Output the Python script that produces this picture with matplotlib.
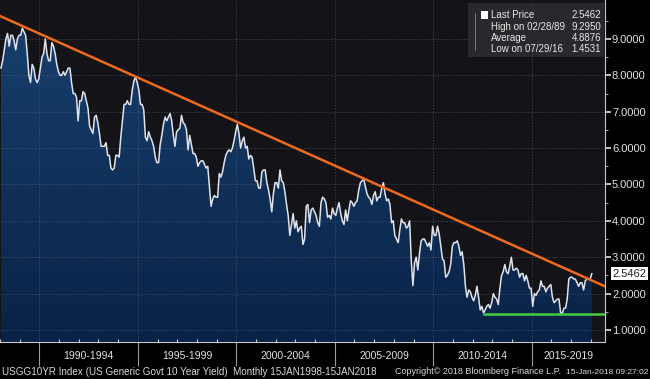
import numpy as np
import matplotlib
matplotlib.use('Agg')
from matplotlib import pyplot as plt
from matplotlib import transforms as mtransforms
from matplotlib.colors import LinearSegmentedColormap

# month-end 10y yield, Jan 1988 .. Dec 2017, plus last price Jan 2018
y1988 = [8.20, 8.40, 8.70, 9.00, 9.15, 8.80, 9.10, 9.10, 8.95, 8.70, 9.00, 9.10]
y1989 = [9.10, 9.295, 9.20, 9.10, 8.60, 8.00, 7.80, 8.30, 8.20, 7.90, 7.80, 7.90]
y1990 = [8.20, 8.50, 8.60, 9.00, 8.60, 8.40, 8.40, 8.90, 8.80, 8.60, 8.30, 8.10]
y1991 = [8.00, 8.00, 8.10, 8.00, 8.10, 8.20, 8.20, 7.80, 7.50, 7.50, 7.40, 6.75]
y1992 = [7.30, 7.30, 7.55, 7.50, 7.30, 7.10, 6.60, 6.50, 6.40, 6.85, 6.90, 6.70]
y1993 = [6.40, 6.05, 6.05, 6.05, 6.15, 5.80, 5.80, 5.45, 5.40, 5.45, 5.80, 5.80]
y1994 = [5.75, 6.30, 6.75, 7.20, 7.20, 7.30, 7.20, 7.20, 7.60, 7.85, 7.95, 7.80]
y1995 = [7.60, 7.20, 7.20, 7.05, 6.30, 6.20, 6.45, 6.30, 6.20, 6.05, 5.75, 5.60]
y1996 = [5.60, 6.10, 6.35, 6.65, 6.85, 6.75, 6.85, 6.95, 6.75, 6.35, 6.05, 6.45]
y1997 = [6.50, 6.55, 6.90, 6.70, 6.65, 6.50, 5.95, 6.35, 6.10, 5.85, 5.85, 5.75]
y1998 = [5.50, 5.60, 5.65, 5.65, 5.55, 5.45, 5.50, 4.95, 4.40, 4.60, 4.70, 4.65]
y1999 = [4.65, 5.30, 5.20, 5.35, 5.60, 5.80, 5.90, 5.95, 5.90, 6.00, 6.20, 6.45]
y2000 = [6.65, 6.40, 6.00, 6.20, 6.30, 6.00, 6.05, 5.70, 5.80, 5.75, 5.45, 5.10]
y2001 = [5.10, 4.90, 4.90, 5.35, 5.40, 5.40, 5.05, 4.85, 4.60, 4.25, 4.75, 5.05]
y2002 = [5.05, 4.90, 5.40, 5.10, 5.05, 4.80, 4.45, 4.15, 3.60, 3.90, 4.20, 3.80]
y2003 = [4.00, 3.70, 3.80, 3.85, 3.35, 3.50, 4.40, 4.45, 3.95, 4.30, 4.35, 4.25]
y2004 = [4.15, 3.95, 3.85, 4.50, 4.65, 4.60, 4.50, 4.10, 4.15, 4.05, 4.35, 4.20]
y2005 = [4.15, 4.35, 4.50, 4.20, 4.00, 3.90, 4.30, 4.00, 4.30, 4.55, 4.50, 4.40]
y2006 = [4.50, 4.55, 4.85, 5.05, 5.10, 5.15, 4.95, 4.75, 4.65, 4.60, 4.45, 4.70]
y2007 = [4.80, 4.55, 4.65, 4.65, 4.90, 5.05, 4.75, 4.55, 4.60, 4.45, 3.95, 4.00]
y2008 = [3.60, 3.50, 3.40, 3.75, 4.05, 3.95, 3.95, 3.80, 3.85, 4.00, 2.90, 2.22]
y2009 = [2.85, 3.00, 2.65, 3.10, 3.45, 3.50, 3.50, 3.40, 3.30, 3.40, 3.20, 3.85]
y2010 = [3.60, 3.60, 3.85, 3.65, 3.30, 2.95, 2.90, 2.45, 2.50, 2.60, 2.80, 3.30]
y2011 = [3.40, 3.40, 3.45, 3.30, 3.05, 3.15, 2.80, 2.20, 1.90, 2.10, 2.05, 1.90]
y2012 = [1.80, 1.95, 2.20, 1.90, 1.55, 1.65, 1.47, 1.55, 1.65, 1.70, 1.60, 1.75]
y2013 = [2.00, 1.90, 1.85, 1.70, 2.15, 2.50, 2.60, 2.80, 2.60, 2.55, 2.75, 3.00]
y2014 = [2.65, 2.65, 2.70, 2.65, 2.45, 2.55, 2.55, 2.35, 2.50, 2.35, 2.15, 2.15]
y2015 = [1.65, 2.00, 1.95, 2.05, 2.10, 2.35, 2.20, 2.20, 2.05, 2.15, 2.20, 2.25]
y2016 = [1.90, 1.75, 1.80, 1.85, 1.85, 1.47, 1.4531, 1.60, 1.60, 1.85, 2.40, 2.45]
y2017 = [2.45, 2.40, 2.40, 2.30, 2.20, 2.30, 2.30, 2.10, 2.35, 2.40, 2.40, 2.40]
y2018 = [2.5462]

yields = (y1988 + y1989 + y1990 + y1991 + y1992 + y1993 + y1994 + y1995 + y1996
          + y1997 + y1998 + y1999 + y2000 + y2001 + y2002 + y2003 + y2004 + y2005
          + y2006 + y2007 + y2008 + y2009 + y2010 + y2011 + y2012 + y2013 + y2014
          + y2015 + y2016 + y2017 + y2018)

# trend lines (drawn by hand on the original)
trend_x = [1988.0, 2018.72]
trend_y = [9.63, 2.20]
support_x = [2012.6, 2018.72]
support_y = [1.4531, 1.4531]

periods = ['1990-1994', '1995-1999', '2000-2004', '2005-2009', '2010-2014', '2015-2019']
period_start = [1990, 1995, 2000, 2005, 2010, 2015]

legend_rows = [('Last Price', '2.5462'), ('High on 02/28/89', '9.2950'),
               ('Average', '4.8876'), ('Low on 07/29/16', '1.4531')]
last_price = 2.5462

footer_left = 'USGG10YR Index (US Generic Govt 10 Year Yield)  Monthly 15JAN1998-15JAN2018'
footer_mid = 'Copyright\u00a9 2018 Bloomberg Finance L.P.'
footer_right = '15-Jan-2018 09:27:02'

if __name__ == '__main__':
    plt.rcParams['font.family'] = ['Liberation Sans', 'DejaVu Sans']
    y = np.array(yields)
    x = 1988 + (np.arange(len(y)) + 0.6) / 12.0
    xmin, xmax = 1988.0, 2018.72
    ymin, ymax = 0.67, 10.07

    fig = plt.figure(figsize=(6.5, 3.79), dpi=100, facecolor='black')
    ax = fig.add_axes([0.0, 1 - 342 / 379, 605 / 650, 342 / 379])
    ax.set_facecolor('#141418')

    # gradient area under the line
    cmap = LinearSegmentedColormap.from_list('bb', ['#0a2247', '#173f6c'])
    grad = np.linspace(0, 1, 256).reshape(-1, 1)
    im = ax.imshow(grad, cmap=cmap, origin='lower', aspect='auto',
                   extent=[x[0] - 0.05, x[-1], ymin, 9.4], zorder=1)
    poly = ax.fill_between(x, ymin, y, color='none', lw=0)
    im.set_clip_path(poly.get_paths()[0], transform=ax.transData)
    ax.set_xlim(xmin, xmax)
    ax.set_ylim(ymin, ymax)

    # grid
    for v in range(1, 10):
        ax.axhline(v, color='#5a6070', lw=0.6, ls=(0, (1.5, 2)), alpha=0.7, zorder=2)
    for v in period_start:
        ax.axvline(v, color='#5a6070', lw=0.6, ls=(0, (1.5, 2)), alpha=0.7, zorder=2)

    ax.plot(x, y, color='#dfe3ec', lw=1.1, zorder=4)
    ax.plot(trend_x, trend_y, color='#ee6a1c', lw=1.8, zorder=5)
    ax.plot(support_x, support_y, color='#3fcf3f', lw=1.8, zorder=5)

    # spines
    for s in ['top', 'left']:
        ax.spines[s].set_visible(False)
    ax.spines['right'].set_color('#c8c8c8')
    ax.spines['bottom'].set_color('#c8c8c8')
    ax.spines['right'].set_linewidth(0.8)
    ax.spines['bottom'].set_linewidth(0.8)

    # y axis on the right
    ax.yaxis.tick_right()
    ax.set_yticks(range(1, 10))
    ax.set_yticklabels(['%.4f' % v for v in range(1, 10)])
    ax.set_yticks(np.arange(1.5, 10.0, 1.0), minor=True)
    ax.tick_params(axis='y', which='major', colors='#e0e0e0', labelsize=8,
                   length=4, width=1.2, pad=1, direction='out')
    ax.tick_params(axis='y', which='minor', colors='#a0a0a0', length=2, width=0.8)

    # x axis: year ticks + long separators, period labels centred
    ax.set_xticks(period_start)
    ax.set_xticklabels([])
    ax.set_xticks(range(1988, 2019), minor=True)
    ax.tick_params(axis='x', which='major', colors='#9a9a9a', length=17, width=0.8,
                   direction='out')
    ax.tick_params(axis='x', which='minor', colors='#d0d0d0', length=2, width=0.8,
                   direction='in')
    trans = mtransforms.blended_transform_factory(ax.transData, fig.transFigure)
    for lab, s in zip(periods, period_start):
        c = (s + min(s + 5, xmax)) / 2.0
        ax.text(c, 1 - 356 / 379, lab, transform=trans, color='#e0e0e0',
                fontsize=7.5, ha='center', va='center')

    # last price marker on the right axis
    ax.text(1.012, (last_price - ymin) / (ymax - ymin), '%.4f' % last_price,
            transform=ax.transAxes, fontsize=8, color='#222222', ha='left',
            va='center', clip_on=False,
            bbox=dict(boxstyle='square,pad=0.15', fc='white', ec='none'))

    # legend box
    fig.patches.append(plt.Rectangle((468 / 650, 1 - 57 / 379), 136 / 650, 54 / 379,
                                     transform=fig.transFigure, fc='#2b2b30',
                                     ec='none', alpha=0.9, zorder=10))
    for i, (name, val) in enumerate(legend_rows):
        yy = 1 - (15 + 11.5 * i) / 379
        fig.text(491 / 650, yy, name, color='#e8e8e8', fontsize=7, va='center',
                 zorder=11)
        fig.text(601 / 650, yy, val, color='#e8e8e8', fontsize=7, va='center',
                 ha='right', zorder=11)
    fig.patches.append(plt.Rectangle((481 / 650, 1 - 19 / 379), 7 / 650, 8 / 379,
                                     transform=fig.transFigure, fc='white',
                                     ec='none', zorder=11))
    fig.lines.append(plt.Line2D([475 / 650, 475 / 650], [1 - 13 / 379, 1 - 50 / 379],
                                transform=fig.transFigure, color='#888888', lw=0.6,
                                zorder=11))

    fy = 1 - 372 / 379
    fig.text(2 / 650, fy, footer_left, color='#d8d8d8', fontsize=7.1, va='center')
    fig.text(395 / 650, fy, footer_mid, color='#d8d8d8', fontsize=6.5, va='center')
    fig.text(648 / 650, fy, footer_right, color='#d8d8d8', fontsize=6.0, va='center',
             ha='right')

    fig.savefig('out.png', dpi=100, facecolor='black')
